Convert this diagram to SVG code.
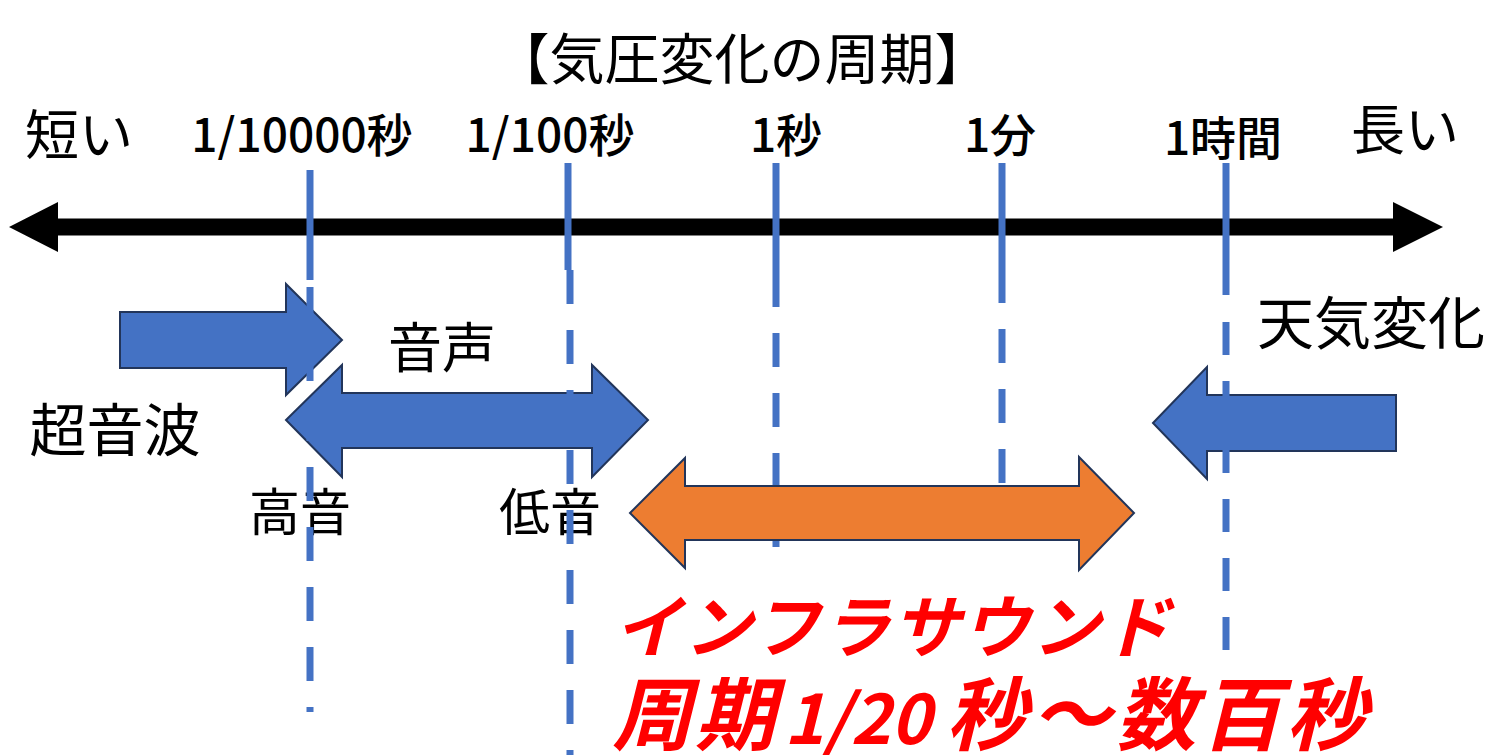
<svg xmlns="http://www.w3.org/2000/svg" width="1506" height="755" viewBox="0 0 1506 755">
<style>
.t{font-family:"Noto Sans CJK JP","Noto Sans",sans-serif;fill:#000;text-anchor:middle}
.tk{font-family:"Noto Sans CJK JP","Noto Sans",sans-serif;fill:#000;text-anchor:middle;font-weight:500;font-size:46px}
.red{font-family:"Noto Sans CJK JP","Noto Sans",sans-serif;fill:#FF0000;font-weight:700;font-style:italic}
.blue{fill:#4472C4;stroke:#22355A;stroke-width:2;stroke-linejoin:miter}
.orange{fill:#ED7D31;stroke:#22355A;stroke-width:2;stroke-linejoin:miter}
.tick{stroke:#4472C4;stroke-width:7;fill:none}
</style>
<rect width="1506" height="755" fill="#fff"/>
<g id="axis">
<polygon points="9,227 58,202 58,218.5 1393,218.5 1393,202 1443,227 1393,252 1393,235.5 58,235.5 58,252" fill="#000"/>
</g>
<g id="title"><text class="t" x="742" y="79" font-size="55">【気圧変化の周期】</text></g>
<g id="label-short"><text class="t" x="79" y="155" font-size="54">短い</text></g>
<g id="label-long"><text class="t" x="1405" y="150" font-size="54">長い</text></g>
<g id="tick-labels">
<text class="tk" x="302" y="152">1/10000秒</text>
<text class="tk" x="550" y="152">1/100秒</text>
<text class="tk" x="786" y="152">1秒</text>
<text class="tk" x="1000" y="152">1分</text>
<text class="tk" x="1223" y="155">1時間</text>
</g>
<g id="ultrasound">
<polygon class="blue" points="120,312 286,312 286,284 342,340 286,395 286,368 120,368"/>
<text class="t" x="115" y="451" font-size="57">超音波</text>
</g>
<g id="voice">
<polygon class="blue" points="286,420 342,365 342,393 592,393 592,365 648,420 592,477 592,448 342,448 342,477"/>
<text class="t" x="442" y="368" font-size="54">音声</text>
<text class="t" x="300" y="531" font-size="51">高音</text>
<text class="t" x="550" y="531" font-size="51">低音</text>
</g>
<g id="weather">
<polygon class="blue" points="1153,423 1207,367 1207,395 1396,395 1396,451 1207,451 1207,479"/>
<text class="t" x="1371" y="344" font-size="57">天気変化</text>
</g>
<g id="connectors">
<line class="tick" x1="310" y1="170" x2="310" y2="280"/>
<line class="tick" x1="310" y1="287" x2="310" y2="712" stroke-dasharray="34 26"/>
<line class="tick" x1="568" y1="163" x2="568" y2="270"/>
<line class="tick" x1="570" y1="270" x2="570" y2="755" stroke-dasharray="34 26"/>
<line class="tick" x1="776" y1="163" x2="776" y2="307"/>
<line class="tick" x1="776" y1="333" x2="776" y2="547" stroke-dasharray="34 26"/>
<line class="tick" x1="1002" y1="163" x2="1002" y2="303"/>
<line class="tick" x1="1002" y1="329" x2="1002" y2="484" stroke-dasharray="34 26"/>
<line class="tick" x1="1226" y1="163" x2="1226" y2="295"/>
<line class="tick" x1="1226" y1="322" x2="1226" y2="652" stroke-dasharray="33 26"/>
</g>
<g id="infrasound">
<polygon class="orange" points="630,513 685,458 685,486 1079,486 1079,457 1134,513 1079,570 1079,540 685,540 685,568"/>
<text class="red" x="614" y="652" font-size="68" letter-spacing="2">インフラサウンド</text>
<text class="red" y="744"><tspan x="612" font-size="80" letter-spacing="3">周期</tspan><tspan x="784" font-size="68">1/20</tspan><tspan x="946" font-size="80" letter-spacing="5">秒～数百秒</tspan></text>
</g>
</svg>
